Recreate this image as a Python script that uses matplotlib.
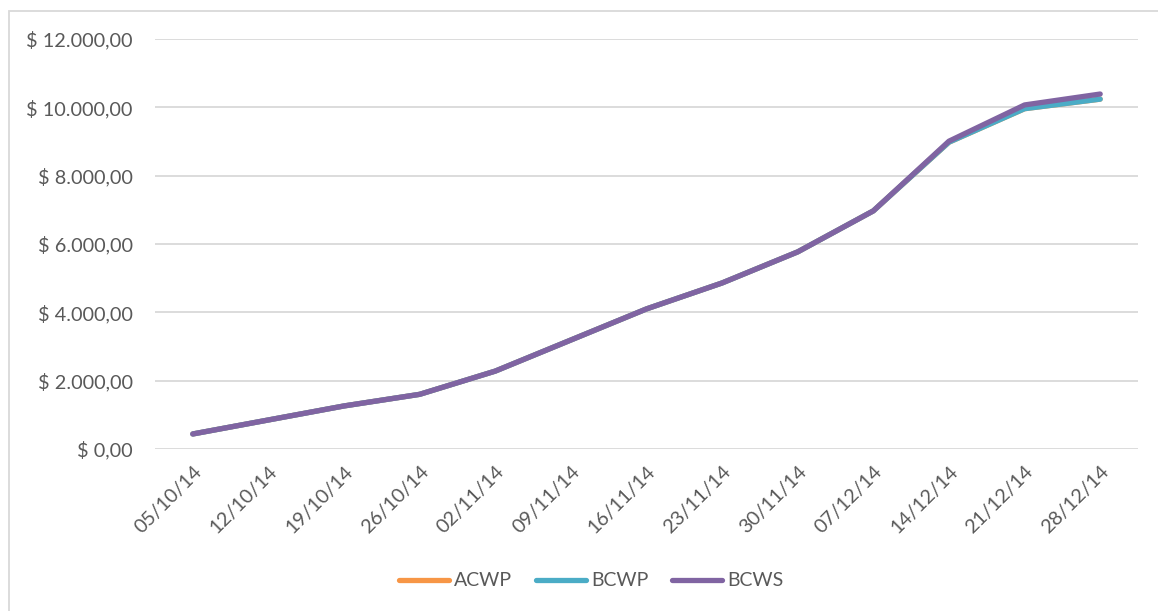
import matplotlib
matplotlib.use("Agg")
import matplotlib.pyplot as plt
from matplotlib.ticker import FuncFormatter
from matplotlib.patches import Rectangle

dates = ["05/10/14", "12/10/14", "19/10/14", "26/10/14", "02/11/14", "09/11/14",
         "16/11/14", "23/11/14", "30/11/14", "07/12/14", "14/12/14", "21/12/14", "28/12/14"]
acwp = [440, 850, 1260, 1600, 2280, 3190, 4100, 4860, 5770, 6970, 8980, 9960, 10240]
bcwp = [440, 850, 1260, 1600, 2280, 3190, 4100, 4860, 5770, 6970, 8980, 9960, 10240]
bcws = [440, 850, 1260, 1600, 2280, 3190, 4100, 4860, 5770, 6970, 9010, 10070, 10390]
yticks = [0, 2000, 4000, 6000, 8000, 10000, 12000]

plt.rcParams['font.family'] = ['Lato', 'DejaVu Sans']
txt = '#595959'

fig = plt.figure(figsize=(11.58, 6.11), dpi=100)
W, H = 1158, 611
ax = fig.add_axes([155 / W, 1 - 449 / H, (1138 - 155) / W, (449 - 39) / H])

x = list(range(len(dates)))
ax.plot(x, acwp, color='#F79646', lw=3.8, solid_capstyle='round', label='ACWP')
ax.plot(x, bcwp, color='#4BACC6', lw=3.8, solid_capstyle='round', label='BCWP')
ax.plot(x, bcws, color='#8064A2', lw=3.8, solid_capstyle='round', label='BCWS')

ax.set_xlim(-0.5, len(dates) - 0.5)
ax.set_ylim(0, 12000)
ax.set_yticks(yticks)

def fmt(v, pos):
    s = f"{v:,.2f}".replace(",", "X").replace(".", ",").replace("X", ".")
    return "$ " + s
ax.yaxis.set_major_formatter(FuncFormatter(fmt))
ax.set_xticks(x)
ax.set_xticklabels(dates, rotation=45, ha='right', rotation_mode='anchor')
ax.tick_params(axis='both', length=0, labelsize=14.3, colors=txt)
ax.tick_params(axis='y', pad=16)
ax.tick_params(axis='x', pad=10)
for s in ax.spines.values():
    s.set_visible(False)
ax.grid(axis='y', color='#D9D9D9', lw=1.3)
ax.set_axisbelow(True)

leg = fig.legend(loc='center', bbox_to_anchor=(591 / W, 1 - 581 / H), ncol=3, frameon=False,
                 fontsize=14, handlelength=2.6, columnspacing=1.2, handletextpad=0.25)
for t in leg.get_texts():
    t.set_color(txt)

fig.patches.append(Rectangle((9 / W, -0.1), 1.2, 1 - 11 / H + 0.1, transform=fig.transFigure,
                             fill=False, edgecolor='#D9D9D9', lw=1.3))

fig.savefig('out.png', dpi=100, facecolor='white')
